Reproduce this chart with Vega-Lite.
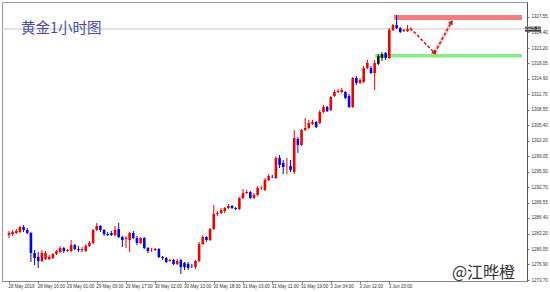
{
  "$schema": "https://vega.github.io/schema/vega-lite/v6.json",
  "width": 525,
  "height": 279,
  "padding": {"left": 2, "top": 2, "right": 23, "bottom": 11},
  "autosize": {"type": "none"},
  "background": "#ffffff",
  "config": {
    "view": {"stroke": "#9a9a9a", "strokeWidth": 1},
    "axis": {"grid": false, "title": null, "labelOverlap": false, "labelSeparation": 0, "labelBound": false}
  },
  "title": {
    "text": "黄金1小时图",
    "anchor": "start",
    "frame": "group",
    "dx": 19,
    "offset": -34,
    "fontSize": 14.5,
    "font": "Noto Sans CJK SC",
    "fontWeight": "normal",
    "color": "#4a4ab0"
  },
  "datasets": {
    "bars": [
      {"i":0,"o":1282.91,"h":1283.73,"l":1282.30,"c":1283.32},
      {"i":1,"o":1283.12,"h":1283.94,"l":1282.71,"c":1283.53},
      {"i":2,"o":1283.32,"h":1284.14,"l":1283.12,"c":1283.73},
      {"i":3,"o":1283.53,"h":1284.76,"l":1283.32,"c":1284.55},
      {"i":4,"o":1284.55,"h":1284.96,"l":1283.53,"c":1283.94},
      {"i":5,"o":1283.94,"h":1284.35,"l":1283.12,"c":1283.32},
      {"i":6,"o":1283.32,"h":1283.53,"l":1277.39,"c":1279.23},
      {"i":7,"o":1279.23,"h":1279.84,"l":1276.77,"c":1278.20},
      {"i":8,"o":1278.41,"h":1279.43,"l":1276.16,"c":1277.59},
      {"i":9,"o":1277.59,"h":1279.84,"l":1277.39,"c":1279.23},
      {"i":10,"o":1278.00,"h":1279.64,"l":1277.80,"c":1279.23},
      {"i":11,"o":1278.00,"h":1278.82,"l":1277.80,"c":1278.41},
      {"i":12,"o":1278.20,"h":1279.23,"l":1278.00,"c":1279.02},
      {"i":13,"o":1279.02,"h":1279.84,"l":1278.82,"c":1279.64},
      {"i":14,"o":1279.43,"h":1280.66,"l":1279.23,"c":1280.25},
      {"i":15,"o":1280.25,"h":1280.46,"l":1279.23,"c":1279.64},
      {"i":16,"o":1279.64,"h":1280.05,"l":1279.43,"c":1279.84},
      {"i":17,"o":1279.64,"h":1281.89,"l":1279.43,"c":1280.87},
      {"i":18,"o":1280.87,"h":1281.07,"l":1279.84,"c":1280.05},
      {"i":19,"o":1280.05,"h":1280.66,"l":1279.43,"c":1279.84},
      {"i":20,"o":1279.84,"h":1280.46,"l":1279.43,"c":1280.05},
      {"i":21,"o":1279.64,"h":1281.07,"l":1279.43,"c":1280.66},
      {"i":22,"o":1280.66,"h":1281.69,"l":1280.46,"c":1281.28},
      {"i":23,"o":1281.28,"h":1284.14,"l":1281.07,"c":1283.94},
      {"i":24,"o":1283.94,"h":1285.37,"l":1283.73,"c":1284.76},
      {"i":25,"o":1284.76,"h":1284.96,"l":1283.53,"c":1283.94},
      {"i":26,"o":1283.94,"h":1284.14,"l":1282.71,"c":1283.12},
      {"i":27,"o":1283.12,"h":1283.53,"l":1282.71,"c":1282.91},
      {"i":28,"o":1283.32,"h":1283.73,"l":1282.71,"c":1282.91},
      {"i":29,"o":1282.91,"h":1284.76,"l":1282.71,"c":1283.94},
      {"i":30,"o":1284.14,"h":1285.37,"l":1282.30,"c":1282.50},
      {"i":31,"o":1282.50,"h":1282.71,"l":1280.46,"c":1281.89},
      {"i":32,"o":1282.09,"h":1282.71,"l":1280.25,"c":1282.30},
      {"i":33,"o":1281.89,"h":1283.53,"l":1279.43,"c":1283.32},
      {"i":34,"o":1283.32,"h":1283.73,"l":1282.09,"c":1282.30},
      {"i":35,"o":1282.30,"h":1282.71,"l":1280.87,"c":1281.28},
      {"i":36,"o":1281.28,"h":1282.50,"l":1281.07,"c":1282.30},
      {"i":37,"o":1282.30,"h":1282.50,"l":1280.05,"c":1280.25},
      {"i":38,"o":1280.25,"h":1280.46,"l":1279.23,"c":1279.64},
      {"i":39,"o":1279.84,"h":1280.25,"l":1279.43,"c":1279.90},
      {"i":40,"o":1279.84,"h":1280.25,"l":1279.64,"c":1280.05},
      {"i":41,"o":1280.05,"h":1280.25,"l":1278.20,"c":1278.41},
      {"i":42,"o":1278.41,"h":1278.61,"l":1277.80,"c":1278.20},
      {"i":43,"o":1278.20,"h":1278.41,"l":1277.18,"c":1277.39},
      {"i":44,"o":1277.59,"h":1278.00,"l":1277.39,"c":1277.80},
      {"i":45,"o":1277.80,"h":1278.00,"l":1276.77,"c":1276.98},
      {"i":46,"o":1276.98,"h":1278.00,"l":1276.77,"c":1277.59},
      {"i":47,"o":1277.80,"h":1278.00,"l":1274.93,"c":1276.36},
      {"i":48,"o":1277.18,"h":1277.39,"l":1275.75,"c":1276.36},
      {"i":49,"o":1276.98,"h":1277.39,"l":1275.75,"c":1276.16},
      {"i":50,"o":1276.57,"h":1276.98,"l":1276.16,"c":1276.50},
      {"i":51,"o":1276.36,"h":1277.80,"l":1275.95,"c":1277.59},
      {"i":52,"o":1277.59,"h":1281.48,"l":1277.39,"c":1281.07},
      {"i":53,"o":1281.07,"h":1282.91,"l":1280.87,"c":1282.50},
      {"i":54,"o":1282.50,"h":1282.71,"l":1281.48,"c":1281.89},
      {"i":55,"o":1281.89,"h":1284.35,"l":1281.69,"c":1284.14},
      {"i":56,"o":1284.14,"h":1289.06,"l":1283.94,"c":1287.21},
      {"i":57,"o":1287.21,"h":1287.83,"l":1286.80,"c":1287.42},
      {"i":58,"o":1287.42,"h":1288.44,"l":1287.21,"c":1288.03},
      {"i":59,"o":1287.83,"h":1288.65,"l":1287.42,"c":1288.44},
      {"i":60,"o":1288.44,"h":1289.26,"l":1288.24,"c":1288.85},
      {"i":61,"o":1288.85,"h":1289.06,"l":1288.24,"c":1288.44},
      {"i":62,"o":1288.44,"h":1288.65,"l":1288.03,"c":1288.24},
      {"i":63,"o":1288.24,"h":1290.69,"l":1288.03,"c":1290.49},
      {"i":64,"o":1290.49,"h":1292.33,"l":1290.28,"c":1291.51},
      {"i":65,"o":1291.51,"h":1292.13,"l":1291.31,"c":1291.72},
      {"i":66,"o":1291.72,"h":1291.92,"l":1290.28,"c":1290.49},
      {"i":67,"o":1290.49,"h":1291.51,"l":1290.28,"c":1291.10},
      {"i":68,"o":1291.10,"h":1292.95,"l":1290.90,"c":1292.54},
      {"i":69,"o":1292.54,"h":1292.95,"l":1292.13,"c":1292.60},
      {"i":70,"o":1292.13,"h":1294.58,"l":1291.92,"c":1294.18},
      {"i":71,"o":1294.18,"h":1295.40,"l":1293.97,"c":1294.99},
      {"i":72,"o":1294.79,"h":1295.20,"l":1294.58,"c":1294.72},
      {"i":73,"o":1294.58,"h":1299.09,"l":1294.38,"c":1298.68},
      {"i":74,"o":1298.68,"h":1299.29,"l":1296.63,"c":1297.25},
      {"i":75,"o":1297.66,"h":1298.27,"l":1295.40,"c":1296.84},
      {"i":76,"o":1297.25,"h":1298.68,"l":1295.40,"c":1297.30},
      {"i":77,"o":1297.04,"h":1298.27,"l":1295.81,"c":1296.22},
      {"i":78,"o":1295.81,"h":1304.41,"l":1295.40,"c":1302.77},
      {"i":79,"o":1302.57,"h":1302.98,"l":1299.70,"c":1301.34},
      {"i":80,"o":1301.34,"h":1304.62,"l":1301.14,"c":1304.41},
      {"i":81,"o":1304.41,"h":1306.87,"l":1304.21,"c":1304.82},
      {"i":82,"o":1304.82,"h":1306.46,"l":1304.62,"c":1305.85},
      {"i":83,"o":1305.64,"h":1306.46,"l":1305.44,"c":1306.05},
      {"i":84,"o":1306.05,"h":1306.26,"l":1304.82,"c":1305.03},
      {"i":85,"o":1305.85,"h":1308.51,"l":1305.64,"c":1308.10},
      {"i":86,"o":1308.10,"h":1309.53,"l":1307.89,"c":1309.12},
      {"i":87,"o":1309.12,"h":1309.33,"l":1308.10,"c":1308.30},
      {"i":88,"o":1308.51,"h":1311.37,"l":1308.30,"c":1311.17},
      {"i":89,"o":1311.37,"h":1312.60,"l":1311.17,"c":1312.19},
      {"i":90,"o":1312.19,"h":1312.81,"l":1311.99,"c":1312.40},
      {"i":91,"o":1312.19,"h":1313.01,"l":1311.99,"c":1312.60},
      {"i":92,"o":1312.19,"h":1312.40,"l":1310.76,"c":1310.96},
      {"i":93,"o":1311.37,"h":1311.78,"l":1308.92,"c":1309.12},
      {"i":94,"o":1309.12,"h":1315.26,"l":1308.92,"c":1315.06},
      {"i":95,"o":1315.06,"h":1315.47,"l":1313.63,"c":1314.04},
      {"i":96,"o":1314.04,"h":1315.06,"l":1313.83,"c":1314.65},
      {"i":97,"o":1314.24,"h":1317.52,"l":1314.04,"c":1317.11},
      {"i":98,"o":1317.11,"h":1318.75,"l":1316.90,"c":1318.13},
      {"i":99,"o":1317.11,"h":1317.52,"l":1315.88,"c":1316.08},
      {"i":100,"o":1316.08,"h":1318.75,"l":1312.60,"c":1318.13},
      {"i":101,"o":1317.93,"h":1319.97,"l":1317.72,"c":1319.56},
      {"i":102,"o":1319.97,"h":1320.38,"l":1318.54,"c":1319.15},
      {"i":103,"o":1320.18,"h":1320.38,"l":1318.75,"c":1319.15},
      {"i":104,"o":1319.15,"h":1325.30,"l":1318.95,"c":1324.89},
      {"i":105,"o":1324.89,"h":1326.12,"l":1324.68,"c":1325.91},
      {"i":106,"o":1325.91,"h":1327.96,"l":1325.09,"c":1325.30},
      {"i":107,"o":1325.30,"h":1325.50,"l":1324.27,"c":1324.48},
      {"i":108,"o":1324.68,"h":1325.09,"l":1324.48,"c":1324.89},
      {"i":109,"o":1324.68,"h":1325.91,"l":1324.48,"c":1325.09},
      {"i":110,"o":1324.89,"h":1325.09,"l":1324.68,"c":1324.95}
    ],
    "zones": [
      {"z":"resistance","x1":105.3,"x2":140.29,"p1":1326.94,"p2":1327.96},
      {"z":"support","x1":100.1,"x2":140.29,"p1":1319.28,"p2":1319.97}
    ],
    "path": [
      {"leg":"down","i":109.7,"p":1325.30},
      {"leg":"down","i":116.4,"p":1320.18},
      {"leg":"up","i":116.4,"p":1320.18},
      {"leg":"up","i":121.0,"p":1326.53}
    ]
  },
  "layer": [
    {
      "data": {"name": "zones"},
      "mark": {"type": "rect"},
      "encoding": {
        "x": {"field": "x1", "type": "quantitative", "scale": {"domain": [-0.54, 140.29], "nice": false, "zero": false}, "title": null},
        "x2": {"field": "x2"},
        "y": {"field": "p1", "type": "quantitative", "scale": {"domain": [1273.5, 1330.62], "nice": false, "zero": false}, "title": null},
        "y2": {"field": "p2"},
        "color": {"field": "z", "type": "nominal", "scale": {"domain": ["resistance", "support"], "range": ["#f47c7c", "#86ee86"]}, "legend": null}
      }
    },
    {
      "data": {"values": [{"p": 1325.1}]},
      "mark": {"type": "rule", "color": "#c8c8c8", "strokeWidth": 1},
      "encoding": {
        "y": {"field": "p", "type": "quantitative", "title": null}
      }
    },
    {
      "data": {"name": "bars"},
      "mark": {"type": "rule", "strokeWidth": 1},
      "encoding": {
        "x": {"field": "i", "type": "quantitative", "title": null,
          "axis": {
            "values": [0, 8, 16, 24, 32, 40, 48, 56, 64, 72, 80, 88, 96, 104],
            "tickCount": 30,
            "labelExpr": "['28 May 2019','28 May 16:00','29 May 01:00','29 May 09:00','29 May 17:00','30 May 02:00','30 May 10:00','30 May 18:00','31 May 03:00','31 May 11:00','31 May 19:00','3 Jun 04:00','3 Jun 12:00','3 Jun 20:00'][round(datum.value/8)]",
            "labelAlign": "left",
            "labelBaseline": "top",
            "labelOffset": -1,
            "labelFontSize": 4.5,
            "labelFont": "Liberation Sans",
            "labelColor": "#333333",
            "labelPadding": 0,
            "labelOverlap": false,
            "labelFlush": false,
            "tickSize": 2,
            "tickColor": "#777777",
            "domainColor": "#8a8a8a",
            "grid": false
          }
        },
        "y": {"field": "l", "type": "quantitative", "title": null,
          "axis": {
            "orient": "right",
            "values": [1327.55, 1324.40, 1321.20, 1318.05, 1314.90, 1311.70, 1308.55, 1305.40, 1302.20, 1299.05, 1295.90, 1292.70, 1289.55, 1286.40, 1283.20, 1280.05, 1276.90, 1273.70],
            "tickCount": 30,
            "labelExpr": "format(datum.value, '.2f')",
            "labelFontSize": 4.5,
            "labelFont": "Liberation Sans",
            "labelColor": "#333333",
            "labelPadding": 2,
            "labelOverlap": false,
            "labelFlush": false,
            "labelSeparation": 0,
            "tickSize": 2,
            "tickColor": "#777777",
            "domainColor": "#555555",
            "grid": false
          }
        },
        "y2": {"field": "h"},
        "color": {
          "condition": [
            {"test": "datum.i == 101 || datum.i == 102", "value": "#1a1a1a"},
            {"test": "datum.c >= datum.o", "value": "#f00000"}
          ],
          "value": "#0000f0"
        }
      }
    },
    {
      "data": {"name": "bars"},
      "mark": {"type": "bar", "width": 2.6},
      "encoding": {
        "x": {"field": "i", "type": "quantitative", "title": null},
        "y": {"field": "o", "type": "quantitative", "title": null},
        "y2": {"field": "c"},
        "color": {
          "condition": [
            {"test": "datum.i == 101 || datum.i == 102", "value": "#1a1a1a"},
            {"test": "datum.c >= datum.o", "value": "#f00000"}
          ],
          "value": "#0000f0"
        }
      }
    },
    {
      "data": {"name": "path"},
      "transform": [{"filter": "datum.leg == 'up'"}],
      "mark": {"type": "line", "color": "#ead6d6", "strokeWidth": 4},
      "encoding": {
        "x": {"field": "i", "type": "quantitative", "title": null},
        "y": {"field": "p", "type": "quantitative", "title": null}
      }
    },
    {
      "data": {"name": "path"},
      "mark": {"type": "line", "color": "#e01010", "strokeWidth": 1.5, "strokeDash": [3, 2]},
      "encoding": {
        "x": {"field": "i", "type": "quantitative", "title": null},
        "y": {"field": "p", "type": "quantitative", "title": null},
        "detail": {"field": "leg"}
      }
    },
    {
      "data": {"values": [{"i": 116.4, "p": 1320.18}]},
      "mark": {"type": "point", "shape": "triangle-up", "filled": true, "color": "#e01010", "size": 28, "angle": 135, "opacity": 1},
      "encoding": {
        "x": {"field": "i", "type": "quantitative", "title": null},
        "y": {"field": "p", "type": "quantitative", "title": null}
      }
    },
    {
      "data": {"values": [{"i": 121.0, "p": 1326.53}]},
      "mark": {"type": "point", "shape": "triangle-up", "filled": true, "color": "#e01010", "size": 28, "angle": 29, "opacity": 1},
      "encoding": {
        "x": {"field": "i", "type": "quantitative", "title": null},
        "y": {"field": "p", "type": "quantitative", "title": null}
      }
    },
    {
      "data": {"values": [{"a": 141.1, "b": 145.5, "lo": 1324.55, "hi": 1325.65}]},
      "mark": {"type": "rect", "color": "#3c3c3c"},
      "encoding": {
        "x": {"field": "a", "type": "quantitative", "title": null},
        "x2": {"field": "b"},
        "y": {"field": "lo", "type": "quantitative", "title": null},
        "y2": {"field": "hi"}
      }
    },
    {
      "data": {"values": [{"a": 143.3, "p": 1325.1, "t": "1325.10"}]},
      "mark": {"type": "text", "fontSize": 4.5, "font": "Liberation Sans", "color": "#ffffff", "align": "center", "baseline": "middle"},
      "encoding": {
        "x": {"field": "a", "type": "quantitative", "title": null},
        "y": {"field": "p", "type": "quantitative", "title": null},
        "text": {"field": "t"}
      }
    },
    {
      "data": {"values": [{"a": 138.4, "p": 1274.1, "t": "@江晔橙"}]},
      "mark": {"type": "text", "fontSize": 16, "font": "Noto Sans CJK SC", "color": "#333333", "align": "right", "baseline": "alphabetic"},
      "encoding": {
        "x": {"field": "a", "type": "quantitative", "title": null},
        "y": {"field": "p", "type": "quantitative", "title": null},
        "text": {"field": "t"}
      }
    }
  ]
}
